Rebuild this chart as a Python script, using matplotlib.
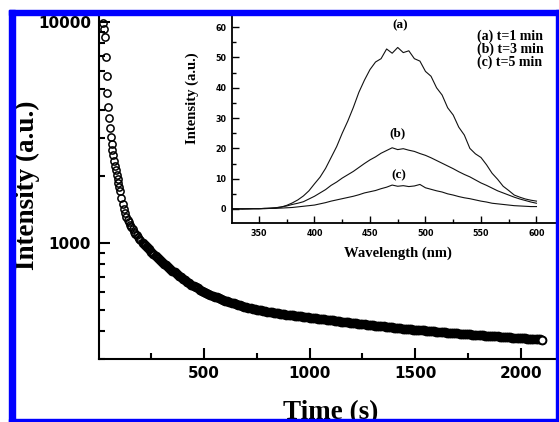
import matplotlib.pyplot as plt
from matplotlib.patches import Rectangle
from matplotlib.ticker import FixedLocator, LogLocator, MultipleLocator, NullFormatter

W, H = 559, 422

# decay curve (time in s, intensity in a.u.)
decay_time = ([22, 26, 30, 34, 38, 42, 46, 50, 54, 58, 62, 66, 70, 74, 78, 82, 86, 90, 94, 98, 102]
              + [108, 114, 120, 126, 132, 138, 144, 150, 156, 162, 168, 174, 180, 186, 192, 198]
              + list(range(210, 2101, 10)))
decay_intensity = [
    9930, 9270, 8530, 6920, 5700, 4785, 4110, 3665, 3305, 3025, 2820, 2640, 2490, 2360, 2240,
    2130, 2030, 1940, 1860, 1785, 1715,
    1600, 1500, 1419, 1361, 1315, 1276, 1242, 1211, 1180, 1153, 1127, 1104, 1084, 1064, 1045, 1028,
    1000, 978, 956, 935, 914, 894, 875, 857, 840, 823,
    807, 792, 777, 763, 749, 736, 723, 711, 699, 688,
    677, 667, 657, 648, 639, 631, 623, 615, 608, 601,
    595, 589, 583, 577, 572, 567, 562, 557, 552, 548,
    544, 541, 537, 533, 530, 526, 523, 519, 516, 512,
    510, 507, 505, 502, 500, 497, 495, 493, 490, 488,
    486, 485, 483, 482, 480, 478, 477, 475, 474, 472,
    471, 470, 468, 467, 466, 465, 464, 462, 461, 460,
    459, 457, 456, 455, 453, 452, 451, 450, 448, 447,
    446, 445, 443, 442, 441, 440, 439, 437, 436, 435,
    434, 433, 432, 431, 430, 428, 427, 426, 425, 424,
    423, 422, 421, 420, 419, 418, 417, 416, 415, 414,
    413, 412, 411, 410, 410, 409, 408, 407, 406, 405,
    404, 403, 403, 402, 401, 400, 399, 399, 398, 397,
    396, 396, 395, 394, 393, 393, 392, 391, 391, 390,
    389, 389, 388, 387, 387, 386, 385, 385, 384, 383,
    382, 382, 381, 381, 380, 379, 379, 378, 378, 377,
    376, 376, 375, 375, 374, 373, 373, 372, 372, 371,
    370, 370, 369, 369, 368, 367, 367, 366, 366, 365,
]

# inset spectra
wavelength = list(range(325, 601, 5))
spec_a = [0.1, 0.0, 0.1, 0.0, 0.1, 0.1, 0.2, 0.2, 0.4, 0.6, 1.2, 2.0, 3.0, 4.3, 6.0, 8.3,
          10.5, 13.4, 17.0, 20.6, 25.0, 29.0, 33.5, 38.5, 42.5, 46.0, 48.5, 49.6, 52.8, 51.4,
          53.3, 51.6, 52.2, 49.6, 48.8, 45.4, 43.8, 40.0, 37.6, 33.4, 31.0, 27.0, 24.4, 20.0,
          18.2, 17.0, 14.6, 11.8, 9.8, 7.5, 6.1, 4.6, 3.9, 3.3, 2.9, 2.6]
spec_b = [0.1, 0.1, 0.0, 0.1, 0.1, 0.1, 0.2, 0.3, 0.4, 0.7, 1.0, 1.5, 1.9, 2.4, 3.3, 4.2,
          5.3, 6.4, 7.8, 8.9, 10.2, 11.3, 12.4, 13.7, 15.0, 16.2, 17.2, 18.4, 19.3, 20.2,
          19.6, 19.9, 19.4, 19.0, 18.3, 17.7, 16.9, 16.0, 15.1, 14.2, 13.3, 12.3, 11.4, 10.6,
          9.6, 8.6, 7.8, 6.9, 6.0, 5.3, 4.6, 3.9, 3.3, 2.8, 2.3, 1.9]
spec_c = [0.0, 0.1, 0.0, 0.1, 0.1, 0.1, 0.1, 0.2, 0.2, 0.3, 0.4, 0.5, 0.7, 0.9, 1.1, 1.3,
          1.7, 2.1, 2.6, 3.0, 3.4, 3.8, 4.2, 4.7, 5.3, 5.7, 6.1, 6.7, 7.2, 7.9,
          7.5, 7.7, 7.4, 7.6, 8.1, 7.0, 6.5, 6.0, 5.6, 5.0, 4.6, 4.1, 3.7, 3.4,
          3.0, 2.6, 2.3, 1.9, 1.7, 1.5, 1.3, 1.1, 1.0, 0.9, 0.8, 0.8]
curve_tags = ['(a)', '(b)', '(c)']
legend_lines = ['(a) t=1 min', '(b) t=3 min', '(c) t=5 min']


def fx(x):
    return x / W


def fy(y):
    return 1 - y / H


serif = dict(family=['Liberation Serif', 'DejaVu Serif'], weight='bold')

fig = plt.figure(figsize=(W / 100, H / 100), dpi=100)

# main axes
ax = fig.add_axes([fx(98.5), fy(359), (563 - 98.5) / W, (359 - 12) / H])
n_sparse = 37  # the first, well separated points
ax.plot(decay_time[:n_sparse], decay_intensity[:n_sparse], 'o', ms=5.2, mfc='none',
        mec='black', mew=1.1)
ax.plot(decay_time[n_sparse:], decay_intensity[n_sparse:], 'o', ms=5.0, mfc='none',
        mec='black', mew=2.0)
ax.plot(decay_time[-1:], decay_intensity[-1:], 'o', ms=5.4, mfc='white', mec='black', mew=1.2)
ax.set_yscale('log')
ax.set_xlim(0, 2200)
ax.set_ylim(298.6, 11100)
ax.xaxis.set_minor_locator(FixedLocator([250, 750, 1250, 1750]))
ax.set_xticks([500, 1000, 1500, 2000], ['500', '1000', '1500', '2000'], fontweight='bold')
ax.set_yticks([1000, 10000], ['1000', '10000'], fontweight='bold')
ax.yaxis.set_minor_locator(LogLocator(base=10, subs=range(2, 10)))
ax.yaxis.set_minor_formatter(NullFormatter())
ax.tick_params(which='both', direction='in', width=1.5, labelsize=11)
ax.tick_params(which='major', length=8)
ax.tick_params(which='minor', length=4)
ax.tick_params(axis='x', pad=5)
ax.tick_params(axis='y', pad=5.4)
for s in ['top', 'right']:
    ax.spines[s].set_visible(False)
for s in ['left', 'bottom']:
    ax.spines[s].set_linewidth(1.5)

fig.text(fx(331), fy(419.5), 'Time (s)', ha='center', va='baseline', size=19.5, **serif)
fig.text(fx(14.5), fy(185), 'Intensity (a.u.)', rotation=90, ha='left', va='center',
         size=19.5, **serif)

# inset
ins = fig.add_axes([fx(232), fy(223), (558 - 232) / W, (223 - 12) / H])
for spec in (spec_a, spec_b, spec_c):
    ins.plot(wavelength, spec, color='#111111', lw=0.8)
ins.set_xlim(325.7, 619.4)
ins.set_ylim(-4.62, 65.0)
ins.xaxis.set_major_locator(MultipleLocator(50))
ins.xaxis.set_minor_locator(MultipleLocator(25))
ins.yaxis.set_major_locator(MultipleLocator(10))
ins.yaxis.set_minor_locator(MultipleLocator(5))
ins.tick_params(which='both', direction='in', width=1.0, labelsize=5.8, pad=4)
ins.tick_params(which='major', length=5)
ins.tick_params(which='minor', length=3)
for lbl in ins.get_xticklabels() + ins.get_yticklabels():
    lbl.set_fontweight('bold')
for s in ['top', 'right']:
    ins.spines[s].set_visible(False)
for s in ['left', 'bottom']:
    ins.spines[s].set_linewidth(1.3)

fig.text(fx(397.5), fy(253), 'Wavelength (nm)', ha='center', va='center', size=10.5, **serif)
fig.text(fx(192), fy(98), 'Intensity (a.u.)', rotation=90, ha='center', va='center',
         size=10.5, **serif)
for tag, (x, y) in zip(curve_tags, [(400, 25), (398, 133), (399, 175)]):
    fig.text(fx(x), fy(y), tag, ha='center', va='center', size=9.5, **serif)
for i, line in enumerate(legend_lines):
    fig.text(fx(477), fy(36 + 13 * i), line, ha='left', va='center', size=10, **serif)

# blue frame
blue = '#0000ff'
for x0, y0, x1, y1 in [(8.5, 9.5, 15, 422), (8.5, 9.5, 559, 15),
                       (556, 9.5, 559, 422), (8.5, 418.5, 559, 422)]:
    fig.add_artist(Rectangle((fx(x0), fy(y1)), (x1 - x0) / W, (y1 - y0) / H,
                             transform=fig.transFigure, color=blue, zorder=10))

fig.savefig('out.png', dpi=100)
